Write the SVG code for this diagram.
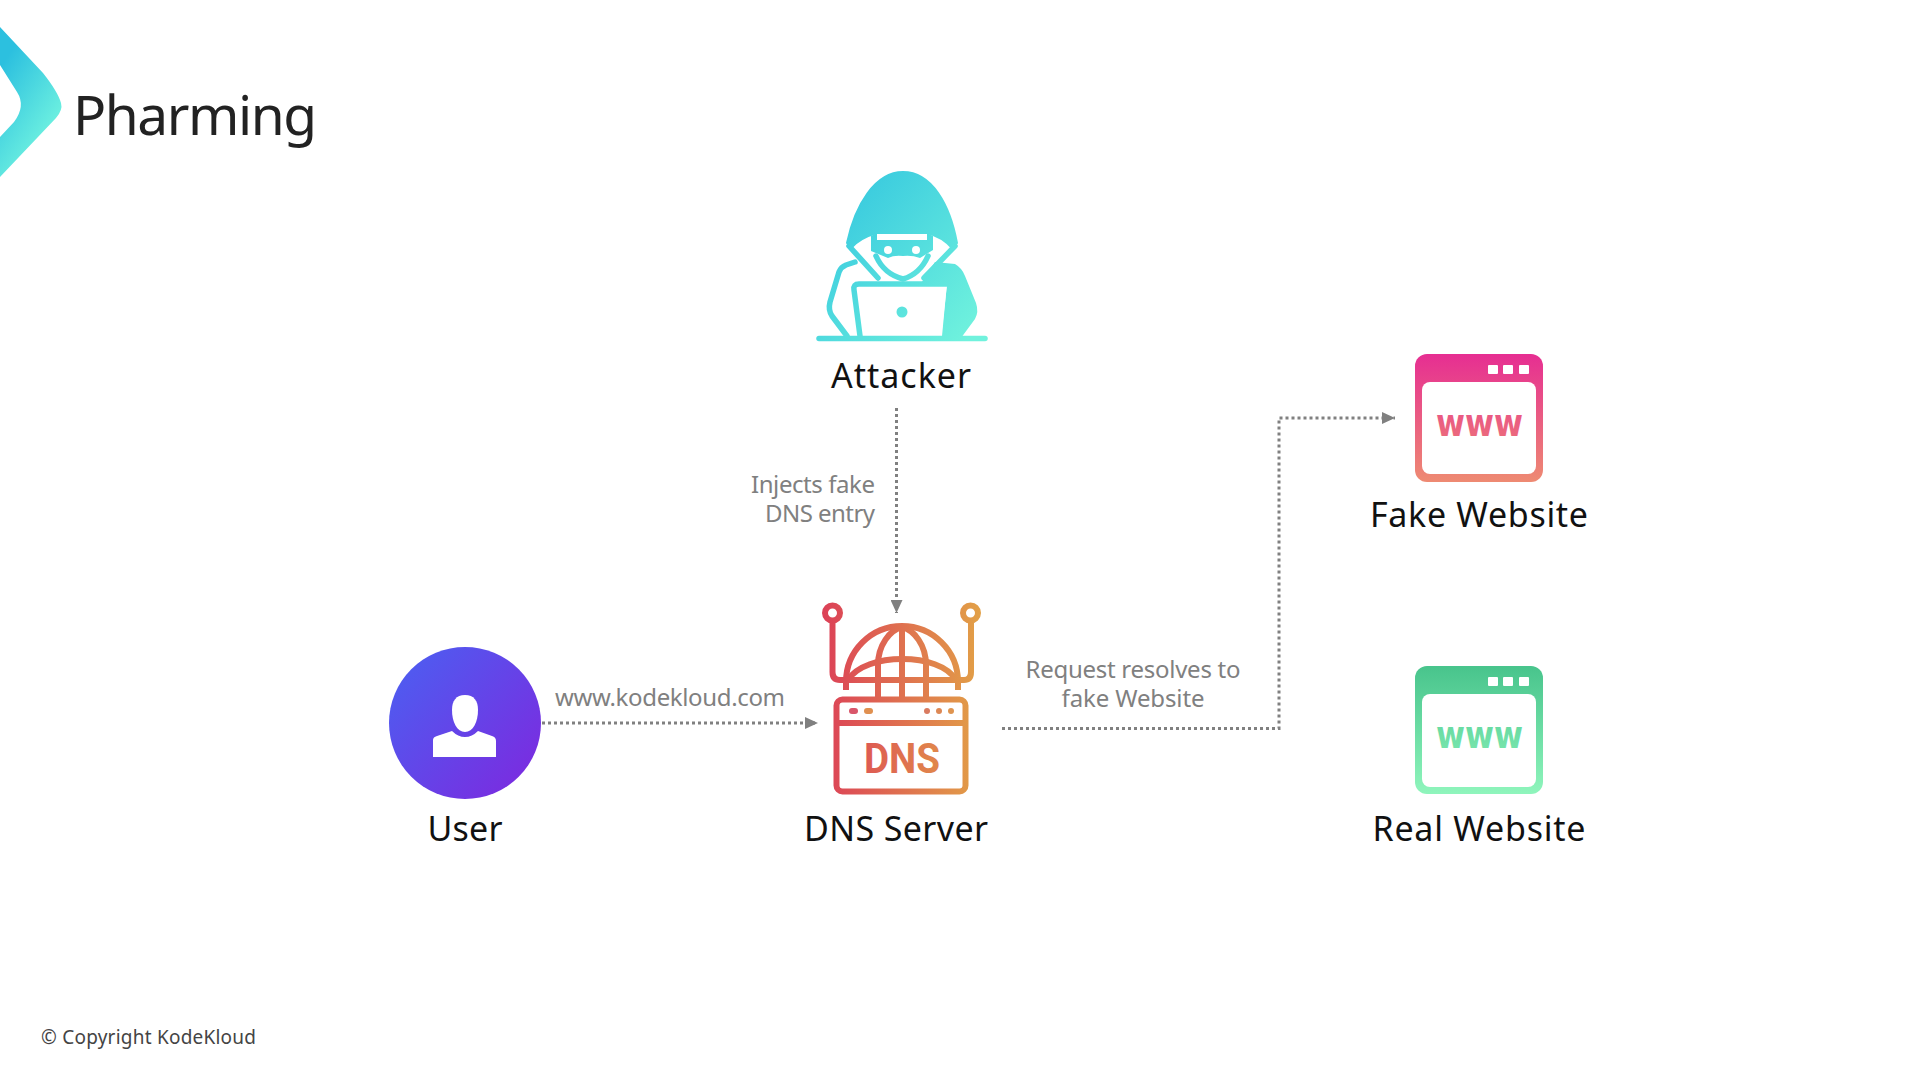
<svg xmlns="http://www.w3.org/2000/svg" width="1920" height="1080" viewBox="0 0 1920 1080">
<style>
text{font-family:"Noto Sans","Open Sans","DejaVu Sans",sans-serif}
.lab{font-size:34px;fill:#111;text-anchor:middle}
.sm{font-size:24px;fill:#808080}
.con{fill:none;stroke:#808080;stroke-width:3;stroke-dasharray:3 3;marker-end:url(#arr)}
.att{fill:none;stroke:url(#gA);stroke-width:5.5;stroke-linecap:round;stroke-linejoin:round}
.dns{fill:none;stroke:url(#gD);stroke-width:6;stroke-linejoin:round}
.www{font-family:"DejaVu Sans",sans-serif;font-weight:700;font-size:39px;text-anchor:start}
</style>
<defs>
<marker id="arr" markerUnits="userSpaceOnUse" markerWidth="14" markerHeight="12" refX="13" refY="6" orient="auto"><path d="M0 0L13 6L0 12Z" fill="#808080"/></marker>
<linearGradient id="gL" gradientUnits="userSpaceOnUse" x1="-5" y1="75" x2="62" y2="120"><stop offset="0" stop-color="#2cc0df"/><stop offset="1" stop-color="#6ff2e0"/></linearGradient>
<linearGradient id="gA" gradientUnits="userSpaceOnUse" x1="835" y1="190" x2="985" y2="320"><stop offset="0" stop-color="#36c8df"/><stop offset="1" stop-color="#70f2dd"/></linearGradient>
<linearGradient id="gD" gradientUnits="userSpaceOnUse" x1="825" y1="700" x2="980" y2="700"><stop offset="0" stop-color="#dc4257"/><stop offset="1" stop-color="#e2a047"/></linearGradient>
<linearGradient id="gU" gradientUnits="userSpaceOnUse" x1="400" y1="670" x2="530" y2="780"><stop offset="0" stop-color="#4f5bf0"/><stop offset="1" stop-color="#7a2ce0"/></linearGradient>
<linearGradient id="gF" gradientUnits="userSpaceOnUse" x1="0" y1="354" x2="0" y2="482"><stop offset="0" stop-color="#e62e92"/><stop offset="1" stop-color="#ee8a72"/></linearGradient>
<linearGradient id="gR" gradientUnits="userSpaceOnUse" x1="0" y1="666" x2="0" y2="794"><stop offset="0" stop-color="#48c48c"/><stop offset="1" stop-color="#8ff5bc"/></linearGradient>
</defs>
<rect width="1920" height="1080" fill="#fff"/>
<g id="title">
<path d="M0 27L43 73Q58 92 61 103Q63 110 56 118L0 177V137L14 122Q26 106 17 92L0 65Z" fill="url(#gL)"/>
<text x="73" y="135" font-size="55" fill="#222" textLength="244" lengthAdjust="spacing">Pharming</text>
</g>
<g id="connectors">
<path class="con" d="M896.5 408V613"/>
<path class="con" d="M542 723H818"/>
<path class="con" d="M1002 728.5H1279V418H1395"/>
</g>
<g id="attacker">
<path d="M847 243C855 205 875 172 903 172C932 172 950 205 957 243L952 248C945 240 935 235 927 233H877C870 235 858 240 851 248Z" fill="url(#gA)" stroke="url(#gA)" stroke-width="2" stroke-linejoin="round"/>
<path d="M935 262L955 264Q962 268 965 276L976 303Q979 312 975 319L961 338H941L947 285H920Z" fill="url(#gA)"/>
<path class="att" d="M855 262L846 265Q841 267 839 272L830 302Q828 310 832 316L847 336"/>
<path class="att" d="M849 246L878 278M955 246L924 278" stroke-width="4"/>
<path d="M871 236L877 233H927L933 236V250L920 258Q912 255 903 256Q894 255 888 258L871 251Z" fill="url(#gA)"/>
<rect x="877" y="234" width="50" height="6" fill="#fff"/>
<circle cx="888" cy="250" r="4" fill="#fff"/><circle cx="916" cy="250" r="4" fill="#fff"/>
<path class="att" d="M876 256Q884 274 903 279Q920 274 928 256" stroke-width="4"/>
<path d="M856 283H947L942 336H863Z" fill="#fff"/>
<path class="att" d="M860 336L854 290Q853 284 859 284H947"/>
<circle cx="902" cy="312" r="5.5" fill="url(#gA)"/>
<path class="att" d="M819 338.500H985"/>
<text class="lab" x="901" y="388" textLength="140" lengthAdjust="spacing">Attacker</text>
</g>
<g id="dns-server">
<circle class="dns" cx="832.500" cy="613" r="7.500"/>
<circle class="dns" cx="970.500" cy="613" r="7.500"/>
<path class="dns" d="M832.500 621V672Q832.500 680 840 680H964Q971 680 971 672V621"/>
<path class="dns" d="M846 690V682A56 56 0 0 1 958 682V690"/>
<path class="dns" d="M878 698V665C878 645 890 630 902 627C914 630 926 645 926 665V698M902 627V698"/>
<path class="dns" d="M848 680C865 652 940 652 956 680"/>
<rect class="dns" x="836.500" y="699.500" width="129" height="92" rx="6" fill="#fff"/>
<path class="dns" d="M836 723H966"/>
<rect x="849" y="708" width="9" height="6" rx="3" fill="#d9566a"/>
<rect x="864" y="708" width="9" height="6" rx="3" fill="#e09050"/>
<circle cx="927" cy="711" r="3" fill="#d97b60"/><circle cx="939" cy="711" r="3" fill="#dd8855"/><circle cx="951" cy="711" r="3" fill="#df9450"/>
<text x="864" y="773" font-size="42" font-weight="700" textLength="76" lengthAdjust="spacingAndGlyphs" fill="url(#gD)" style="font-family:Roboto,sans-serif">DNS</text>
<text class="lab" x="896" y="841" textLength="184" lengthAdjust="spacing">DNS Server</text>
</g>
<g id="user">
<circle cx="465" cy="723" r="76" fill="url(#gU)"/>
<path d="M465 695C474 695 478 701 478 710C478 722 473 732 465 732C457 732 452 722 452 710C452 701 456 695 465 695Z" fill="#fff"/>
<path d="M433 757V740Q433 737 437 736L452 731Q458 737 465 737Q472 737 478 731L492 736Q496 737 496 741V757Z" fill="#fff"/>
<text class="lab" x="465" y="841" textLength="75" lengthAdjust="spacing">User</text>
</g>
<g id="fake-website">
<rect x="1415" y="354" width="128" height="128" rx="12" fill="url(#gF)"/>
<rect x="1422" y="382" width="114" height="92" rx="8" fill="#fff"/>
<rect x="1488" y="365" width="10" height="9" rx="1" fill="#fff"/><rect x="1503" y="365" width="10" height="9" rx="1" fill="#fff"/><rect x="1519" y="365" width="10" height="9" rx="1" fill="#fff"/>
<text class="www" x="1436" y="436" fill="url(#gF)" textLength="87" lengthAdjust="spacingAndGlyphs">www</text>
<text class="lab" x="1479" y="527" textLength="218" lengthAdjust="spacing">Fake Website</text>
</g>
<g id="real-website">
<rect x="1415" y="666" width="128" height="128" rx="12" fill="url(#gR)"/>
<rect x="1422" y="694" width="114" height="93" rx="8" fill="#fff"/>
<rect x="1488" y="677" width="10" height="9" rx="1" fill="#fff"/><rect x="1503" y="677" width="10" height="9" rx="1" fill="#fff"/><rect x="1519" y="677" width="10" height="9" rx="1" fill="#fff"/>
<text class="www" x="1436" y="748" fill="url(#gR)" textLength="87" lengthAdjust="spacingAndGlyphs">www</text>
<text class="lab" x="1479" y="841" textLength="213" lengthAdjust="spacing">Real Website</text>
</g>
<g id="labels">
<text class="sm" x="875" y="493" text-anchor="end" textLength="124" lengthAdjust="spacing">Injects fake</text>
<text class="sm" x="875" y="522" text-anchor="end" textLength="110" lengthAdjust="spacing">DNS entry</text>
<text class="sm" x="555" y="706" textLength="230" lengthAdjust="spacing">www.kodekloud.com</text>
<text class="sm" x="1133" y="678" text-anchor="middle" textLength="215" lengthAdjust="spacing">Request resolves to</text>
<text class="sm" x="1133" y="707" text-anchor="middle" textLength="143" lengthAdjust="spacing">fake Website</text>
<text x="41" y="1044" font-size="19" fill="#444" textLength="215" lengthAdjust="spacing">© Copyright KodeKloud</text>
</g>
</svg>
